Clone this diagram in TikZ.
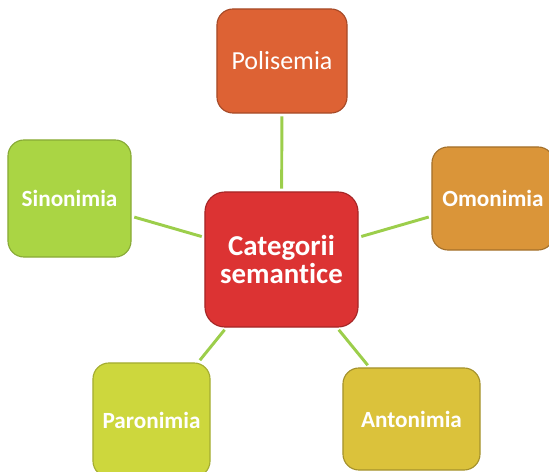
\documentclass[tikz,border=0pt]{standalone}
\usepackage{fontspec}
\setmainfont{Carlito}[Ligatures=NoCommon]

\definecolor{catred}{HTML}{DC3333}
\definecolor{polorange}{HTML}{DD6234}
\definecolor{singreen}{HTML}{AAD544}
\definecolor{omoorange}{HTML}{DA9539}
\definecolor{parlime}{HTML}{CDD73D}
\definecolor{antyellow}{HTML}{DBC23B}
\definecolor{linkgreen}{HTML}{9CCE4B}

\begin{document}
\begin{tikzpicture}[x=0.025cm, y=-0.025cm,
    box/.style={rounded corners=0.4cm, line width=0.8pt, text=white,
        align=center, inner sep=0pt},
    link/.style={linkgreen, line width=2.1pt, shorten <=2pt, shorten >=2pt}]
% Set the page size (549 x 472)
\useasboundingbox (0, 0) rectangle (549, 472);

% Draw the centre and the five categories
\node[box, fill=catred, draw=catred!75!black, rounded corners=0.5cm,
    minimum width=3.825cm, minimum height=3.375cm,
    font=\fontsize{20.5}{19.5}\selectfont\bfseries] (cat) at (281.5, 259.5) {Categorii\\semantice};
\node[box, fill=polorange, draw=polorange!75!black,
    minimum width=3.25cm, minimum height=2.6cm,
    font=\fontsize{18.5}{20}\selectfont] (pol) at (282, 61) {Polisemia};
\node[box, fill=singreen, draw=singreen!80!black,
    minimum width=3.075cm, minimum height=2.925cm,
    font=\fontsize{16.5}{18}\selectfont\bfseries] (sin) at (69.5, 198.5) {Sinonimia};
\node[box, fill=omoorange, draw=omoorange!75!black,
    minimum width=3.05cm, minimum height=2.575cm,
    font=\fontsize{16.5}{18}\selectfont\bfseries] (omo) at (493, 198.5) {Omonimia};
\node[box, fill=parlime, draw=parlime!80!black,
    minimum width=2.925cm, minimum height=2.85cm,
    font=\fontsize{16.5}{18}\selectfont\bfseries] (par) at (151.5, 420) {Paronimia};
\node[box, fill=antyellow, draw=antyellow!75!black,
    minimum width=3.425cm, minimum height=2.55cm,
    font=\fontsize{16.5}{18}\selectfont\bfseries] (ant) at (411.5, 419) {Antonimia};

% Connect the categories to the centre
\draw[link] (cat) -- (pol);
\draw[link] (cat) -- (sin);
\draw[link] (cat) -- (omo);
\draw[link] (cat) -- (par);
\draw[link] (cat) -- (ant);
\end{tikzpicture}
\end{document}
